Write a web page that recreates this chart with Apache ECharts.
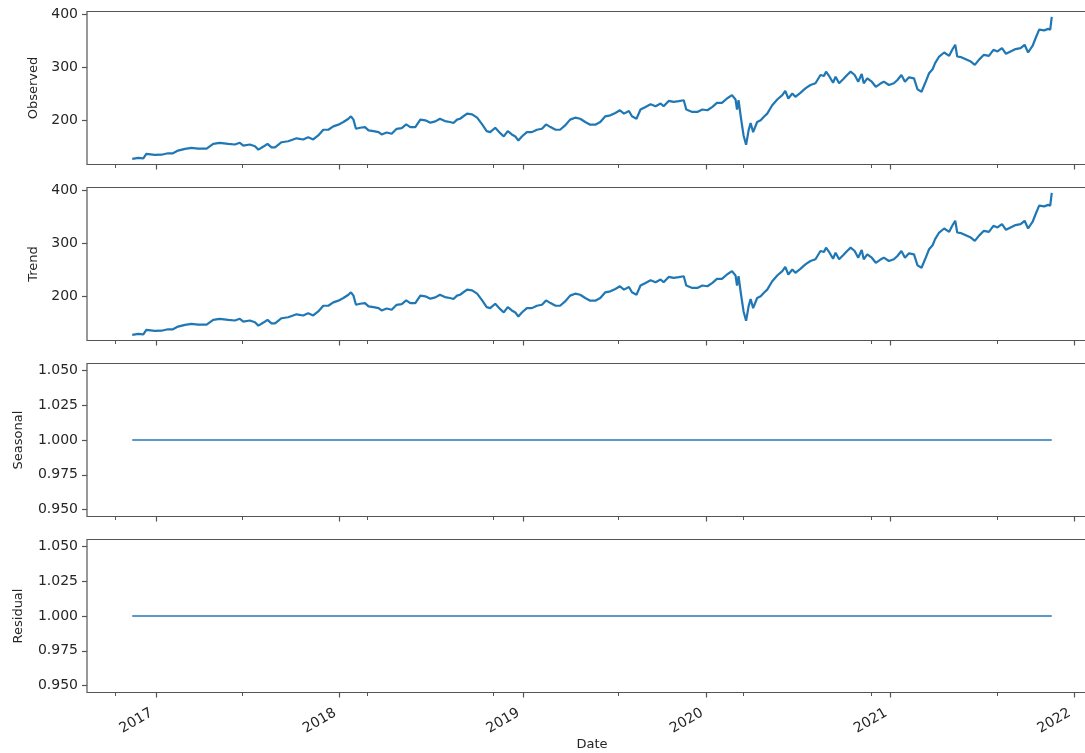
<!DOCTYPE html>
<html><head><meta charset="utf-8">
<script src="https://cdn.jsdelivr.net/npm/echarts@6/dist/echarts.min.js"></script>
<style>html,body{margin:0;padding:0;background:#fff}#c{width:1085px;height:753px}</style>
</head><body><div id="c"></div>
<script>
// ---- data ----
const dates = [
'2016-11-15','2016-11-27','2016-12-07','2016-12-13','2016-12-30',
'2017-01-12','2017-01-25','2017-02-04','2017-02-14','2017-02-28','2017-03-13','2017-03-26','2017-04-12','2017-04-25','2017-05-08','2017-05-25','2017-06-07','2017-06-17','2017-06-24','2017-07-07','2017-07-17','2017-07-24','2017-08-03','2017-08-11','2017-08-19','2017-08-26','2017-09-08','2017-09-21','2017-10-08','2017-10-21','2017-10-31','2017-11-10','2017-11-20','2017-11-30','2017-12-10','2017-12-20','2017-12-30',
'2018-01-09','2018-01-19','2018-01-24','2018-01-29','2018-02-03','2018-02-11','2018-02-21','2018-02-28','2018-03-10','2018-03-20','2018-03-26','2018-04-05','2018-04-15','2018-04-25','2018-05-05','2018-05-14','2018-05-22','2018-06-01','2018-06-11','2018-06-21','2018-07-01','2018-07-11','2018-07-20','2018-07-30','2018-08-09','2018-08-16','2018-08-23','2018-08-29','2018-09-12','2018-09-22','2018-10-02','2018-10-12','2018-10-21','2018-10-28','2018-11-07','2018-11-17','2018-11-24','2018-12-02','2018-12-10','2018-12-17','2018-12-23','2018-12-30',
'2019-01-09','2019-01-19','2019-01-29','2019-02-08','2019-02-16','2019-02-25','2019-03-07','2019-03-16','2019-03-26','2019-04-05','2019-04-15','2019-04-25','2019-05-05','2019-05-15','2019-05-25','2019-06-04','2019-06-14','2019-06-24','2019-07-04','2019-07-13','2019-07-21','2019-07-31','2019-08-06','2019-08-15','2019-08-23','2019-09-02','2019-09-12','2019-09-22','2019-10-02','2019-10-08','2019-10-18','2019-10-28','2019-11-07','2019-11-17','2019-11-22','2019-12-04','2019-12-14','2019-12-24',
'2020-01-03','2020-01-13','2020-01-22','2020-02-01','2020-02-11','2020-02-21','2020-02-28','2020-03-02','2020-03-05','2020-03-10','2020-03-15','2020-03-20','2020-03-25','2020-03-29','2020-04-03','2020-04-11','2020-04-18','2020-04-24','2020-05-01','2020-05-11','2020-05-21','2020-05-31','2020-06-06','2020-06-12','2020-06-20','2020-06-26','2020-07-06','2020-07-16','2020-07-26','2020-08-05','2020-08-15','2020-08-22','2020-08-26','2020-09-02','2020-09-09','2020-09-14','2020-09-21','2020-09-29','2020-10-07','2020-10-14','2020-10-22','2020-10-29','2020-11-05','2020-11-09','2020-11-16','2020-11-25','2020-12-03','2020-12-13','2020-12-19','2020-12-29',
'2021-01-08','2021-01-15','2021-01-23','2021-01-30','2021-02-07','2021-02-17','2021-02-24','2021-03-04','2021-03-11','2021-03-19','2021-03-26','2021-03-31','2021-04-08','2021-04-18','2021-04-28','2021-05-04','2021-05-10','2021-05-14','2021-05-22','2021-05-31','2021-06-10','2021-06-18','2021-06-26','2021-07-06','2021-07-16','2021-07-25','2021-08-02','2021-08-11','2021-08-19','2021-08-28','2021-09-07','2021-09-17','2021-09-25','2021-10-02','2021-10-11','2021-10-17','2021-10-24','2021-11-03','2021-11-11','2021-11-15','2021-11-18'
];
const observedValues = [
127,129,128,136.5,134.6,
135,137.7,137.7,142.8,146,148,146.6,146.6,155.6,157.5,155.6,154.3,157.5,152.3,154.3,151,144.7,150.4,155.6,149,149,158.6,160.5,166,163.8,168,163.8,171.4,182.2,182.2,188.5,191.8,
196.8,203,207.6,201.3,184,186,187.2,181,179.6,177.7,173.3,177.1,174.6,184,185.3,192.3,187.2,187.2,201.3,200,195.6,198,203,198.6,196.8,194.9,201.3,203,212.7,211.4,205,192.3,179.6,177.7,186,175.8,169.5,179.6,173.3,169.5,161.9,169.5,
177.7,177.7,182.2,184,192.3,187.2,182.2,182.2,190.4,201.3,205,203,196.8,191.8,191.8,196.8,207.6,209.5,213.9,219,212.7,217.7,207.6,203,220.4,225.3,230.5,226.6,231.8,226.6,236.7,234.9,236.2,238,220.4,215.8,215.8,220.4,
219,225.3,232.9,232.9,241.3,247.6,239.4,220.4,238,203,171.4,153.7,181,194.9,177.7,196.8,200,206.3,212.7,228.5,239.4,247.6,255.8,241.3,250.8,244.4,252,260.3,266.7,270,285.7,283.8,292,282.5,271,282.5,270,277.5,285.7,292,285.7,273,287.6,270,279.4,273,263.4,270,273,266.7,
270,276.2,285.7,273,281.3,279.4,258.5,254,270,289,296.6,308,320.6,328.2,321.9,333.3,342.8,320.6,319.4,315.6,311,304.8,314.3,323.8,321.9,333.3,330.1,336.6,325.7,330.1,334.7,336.6,342.8,328.2,341,355.6,371.4,370,372.8,371.4,395.6
];
// Trend panel reads the same as Observed
const trendValues = [
127,129,128,136.5,134.6,
135,137.7,137.7,142.8,146,148,146.6,146.6,155.6,157.5,155.6,154.3,157.5,152.3,154.3,151,144.7,150.4,155.6,149,149,158.6,160.5,166,163.8,168,163.8,171.4,182.2,182.2,188.5,191.8,
196.8,203,207.6,201.3,184,186,187.2,181,179.6,177.7,173.3,177.1,174.6,184,185.3,192.3,187.2,187.2,201.3,200,195.6,198,203,198.6,196.8,194.9,201.3,203,212.7,211.4,205,192.3,179.6,177.7,186,175.8,169.5,179.6,173.3,169.5,161.9,169.5,
177.7,177.7,182.2,184,192.3,187.2,182.2,182.2,190.4,201.3,205,203,196.8,191.8,191.8,196.8,207.6,209.5,213.9,219,212.7,217.7,207.6,203,220.4,225.3,230.5,226.6,231.8,226.6,236.7,234.9,236.2,238,220.4,215.8,215.8,220.4,
219,225.3,232.9,232.9,241.3,247.6,239.4,220.4,238,203,171.4,153.7,181,194.9,177.7,196.8,200,206.3,212.7,228.5,239.4,247.6,255.8,241.3,250.8,244.4,252,260.3,266.7,270,285.7,283.8,292,282.5,271,282.5,270,277.5,285.7,292,285.7,273,287.6,270,279.4,273,263.4,270,273,266.7,
270,276.2,285.7,273,281.3,279.4,258.5,254,270,289,296.6,308,320.6,328.2,321.9,333.3,342.8,320.6,319.4,315.6,311,304.8,314.3,323.8,321.9,333.3,330.1,336.6,325.7,330.1,334.7,336.6,342.8,328.2,341,355.6,371.4,370,372.8,371.4,395.6
];
const flatDates = ['2016-11-15', '2021-11-18'];
const seasonalValues = [1.0, 1.0];
const residualValues = [1.0, 1.0];

const panelNames = ['Observed', 'Trend', 'Seasonal', 'Residual'];
const priceTicks = [200, 300, 400];
const ratioTicks = [0.950, 0.975, 1.000, 1.025, 1.050];
const yearTicks = ['2017-01-01','2018-01-01','2019-01-01','2020-01-01','2021-01-01','2022-01-01'];
const minorTicks = ['2016-10-13','2017-06-21','2018-02-25','2018-11-03','2019-07-10','2020-03-15','2020-11-23','2021-08-01'];
const xRange = ['2016-08-17', '2022-02-16'];
const priceRange = [116.5, 405.7];
const ratioRange = [0.945, 1.055];

// ---- chart ----
const T = s => echarts.time.parse(s).getTime();
const FONT = 'DejaVu Sans';
const TXT = '#262626';
const SPINE = '#555';
const tops = [11.5, 187.5, 363.5, 539.5];

const grid = tops.map(top => ({
  left: 87, top: top, width: 1010, height: 153,
  show: true, borderColor: SPINE, borderWidth: 1.2, backgroundColor: 'transparent',
  outerBoundsMode: 'none', containLabel: false
}));

const xAxis = [];
tops.forEach((_, i) => {
  const last = i === 3;
  xAxis.push({
    type: 'value', gridIndex: i, position: 'bottom', min: T(xRange[0]), max: T(xRange[1]),
    axisLine: { show: false },
    splitLine: { show: false },
    axisTick: { show: true, length: 5, customValues: yearTicks.map(T), lineStyle: { color: SPINE, width: 1.2 } },
    axisLabel: {
      show: last, customValues: yearTicks.map(T), rotate: 30, margin: 17, padding: [0, 5, 0, 0],
      fontFamily: FONT, fontSize: 14, color: TXT,
      formatter: v => String(new Date(v).getFullYear())
    },
    name: last ? 'Date' : '', nameLocation: 'middle', nameGap: 45,
    nameTextStyle: { fontFamily: FONT, fontSize: 13, color: TXT }
  });
  xAxis.push({
    type: 'value', gridIndex: i, position: 'bottom', offset: 0, min: T(xRange[0]), max: T(xRange[1]),
    axisLine: { show: false }, splitLine: { show: false },
    axisTick: { show: true, length: 3.5, customValues: minorTicks.map(T), lineStyle: { color: SPINE, width: 1 } },
    axisLabel: { show: false }
  });
});

const yAxis = tops.map((_, i) => {
  const price = i < 2;
  const ticks = price ? priceTicks : ratioTicks;
  const rng = price ? priceRange : ratioRange;
  return {
    type: 'value', gridIndex: i, position: 'left', min: rng[0], max: rng[1],
    axisLine: { show: false }, splitLine: { show: false },
    axisTick: { show: true, length: 5, customValues: ticks, lineStyle: { color: SPINE, width: 1.2 } },
    axisLabel: {
      customValues: ticks, margin: 9, fontFamily: FONT, fontSize: 14, color: TXT,
      formatter: v => price ? String(v) : v.toFixed(3)
    },
    name: panelNames[i], nameLocation: 'middle', nameRotate: 90,
    nameGap: price ? 47 : 62,
    nameTextStyle: { fontFamily: FONT, fontSize: 13, color: TXT }
  };
});

const pair = (ds, vs) => ds.map((d, k) => [T(d), vs[k]]);
const mk = (i, data, w) => ({
  type: 'line', xAxisIndex: 2 * i, yAxisIndex: i, data: data,
  showSymbol: false, symbol: 'none', silent: true, smooth: false,
  lineStyle: { color: '#1f77b4', width: w }, itemStyle: { color: '#1f77b4' }
});

const chart = echarts.init(document.getElementById('c'), null, { renderer: 'canvas' });
chart.setOption({
  animation: false,
  backgroundColor: '#fff',
  grid: grid, xAxis: xAxis, yAxis: yAxis,
  series: [
    mk(0, pair(dates, observedValues), 2.2),
    mk(1, pair(dates, trendValues), 2.2),
    mk(2, pair(flatDates, seasonalValues), 1.5),
    mk(3, pair(flatDates, residualValues), 1.5)
  ]
});
</script></body></html>
